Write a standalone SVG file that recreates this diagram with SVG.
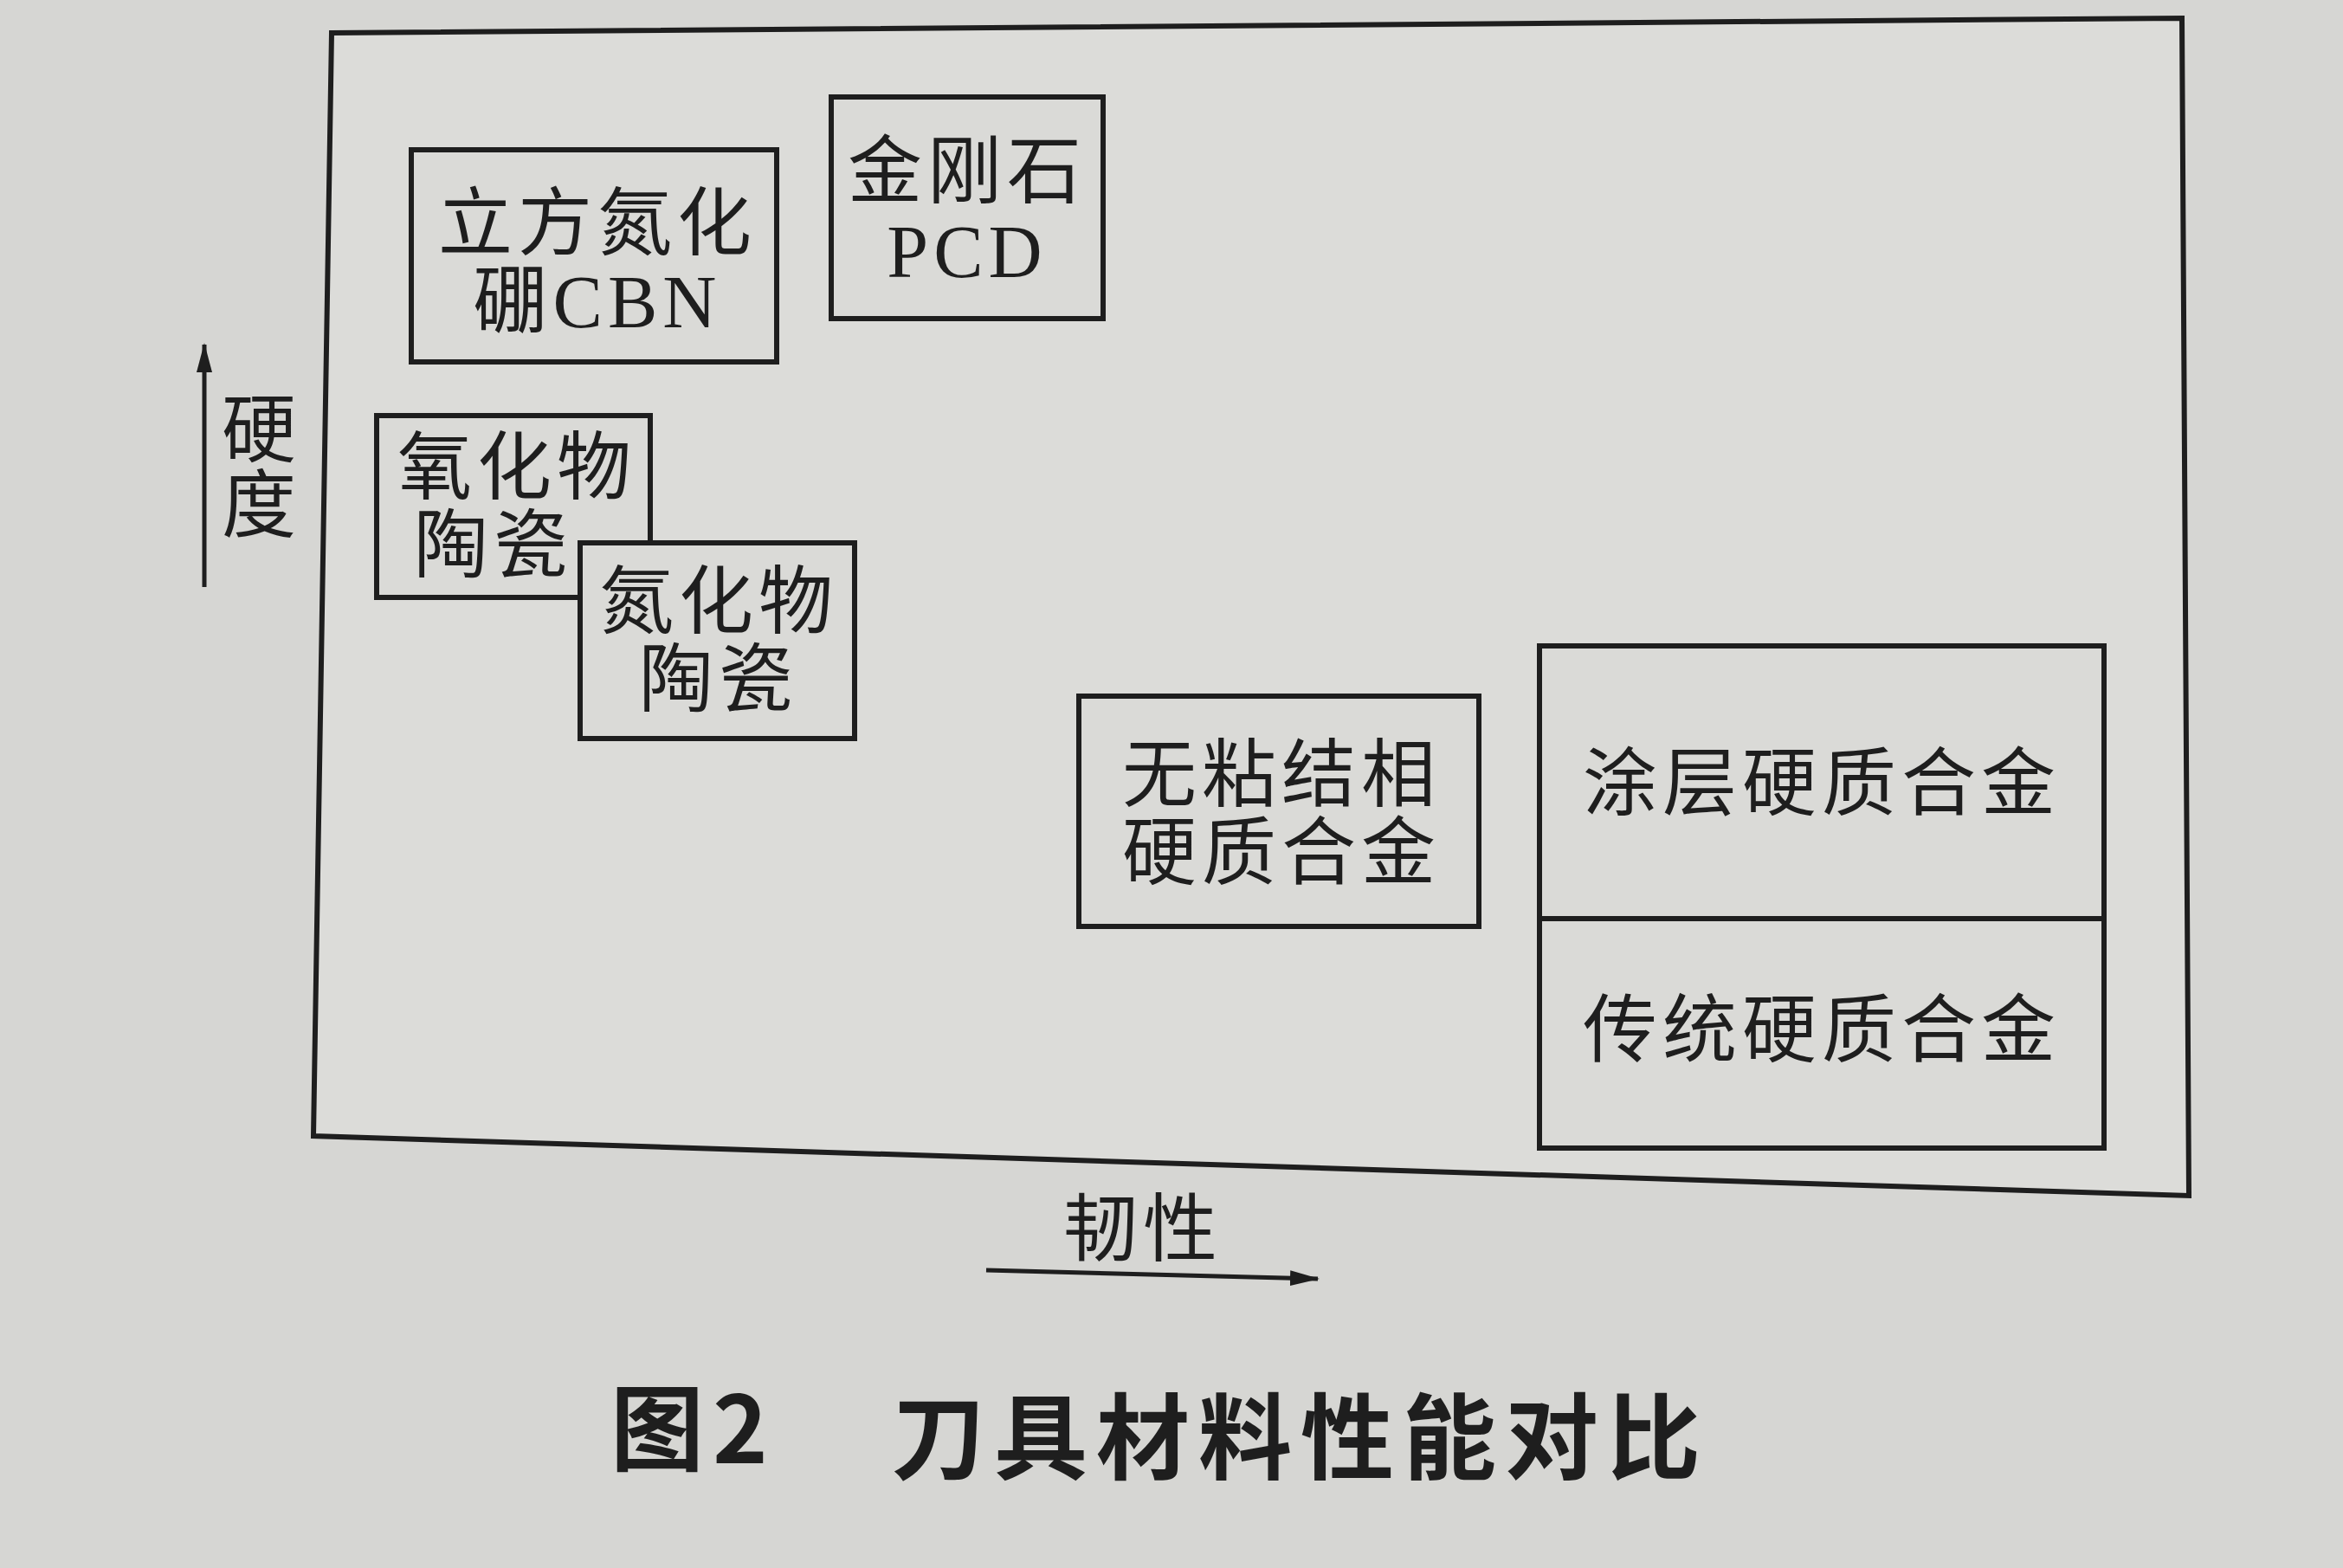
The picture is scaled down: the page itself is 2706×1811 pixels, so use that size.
<svg xmlns="http://www.w3.org/2000/svg" width="2706" height="1811" viewBox="0 0 2706 1811">
<defs>
<style>
.bx{fill:#dadad7;stroke:#1e1e1e;stroke-width:6}
.t{font-family:"Liberation Serif","Noto Sans CJK SC",serif;font-size:86px;letter-spacing:6px;fill:#1e1e1e;text-anchor:middle}
.cap{font-family:"Noto Sans CJK SC",sans-serif;font-size:108px;font-weight:bold;fill:#1e1e1e;letter-spacing:10px}
</style>
<marker id="ah2" markerWidth="34" markerHeight="18" refX="32" refY="9" orient="auto" markerUnits="userSpaceOnUse">
<path d="M0,0 L34,9 L0,18 Z" fill="#1e1e1e"/>
</marker>
</defs>
<rect width="2706" height="1811" fill="#d6d6d3"/>
<g id="frame"><path d="M383,38 L2520,21 L2528,1381 L362,1312 Z" fill="#dcdcd9" stroke="#1e1e1e" stroke-width="6"/></g>
<g id="cbn"><rect class="bx" x="475" y="173" width="422" height="245"/><text class="t" x="690" y="288">立方氮化</text><text class="t" x="690" y="378">硼CBN</text></g>
<g id="pcd"><rect class="bx" x="960" y="112" width="314" height="256"/><text class="t" x="1117" y="228">金刚石</text><text class="t" x="1117" y="320">PCD</text></g>
<g id="oxide"><rect class="bx" x="435" y="480" width="316" height="210"/><text class="t" x="597" y="570">氧化物</text><text class="t" x="570" y="660">陶瓷</text></g>
<g id="nitride"><rect class="bx" x="670" y="627" width="317" height="226"/><text class="t" x="830" y="725">氮化物</text><text class="t" x="830" y="815">陶瓷</text></g>
<g id="binderless"><rect class="bx" x="1246" y="804" width="462" height="266"/><text class="t" x="1480" y="925">无粘结相</text><text class="t" x="1480" y="1015">硬质合金</text></g>
<g id="coated"><rect class="bx" x="1778" y="746" width="652" height="315"/><text class="t" x="2104" y="935">涂层硬质合金</text></g>
<g id="traditional"><rect class="bx" x="1778" y="1061" width="652" height="265"/><text class="t" x="2104" y="1220">传统硬质合金</text></g>
<g id="connectors">
<line x1="236" y1="678" x2="236" y2="398" stroke="#1e1e1e" stroke-width="5" marker-end="url(#ah2)"/>
<line x1="1139" y1="1467" x2="1522" y2="1477" stroke="#1e1e1e" stroke-width="5" marker-end="url(#ah2)"/>
</g>
<g id="labels">
<text class="t" x="302" y="527">硬</text><text class="t" x="302" y="614">度</text>
<text class="t" x="1320" y="1450">韧性</text>
<text class="cap" x="705" y="1690">图2</text>
<text class="cap" x="1030" y="1700">刀具材料性能对比</text>
</g>
</svg>
